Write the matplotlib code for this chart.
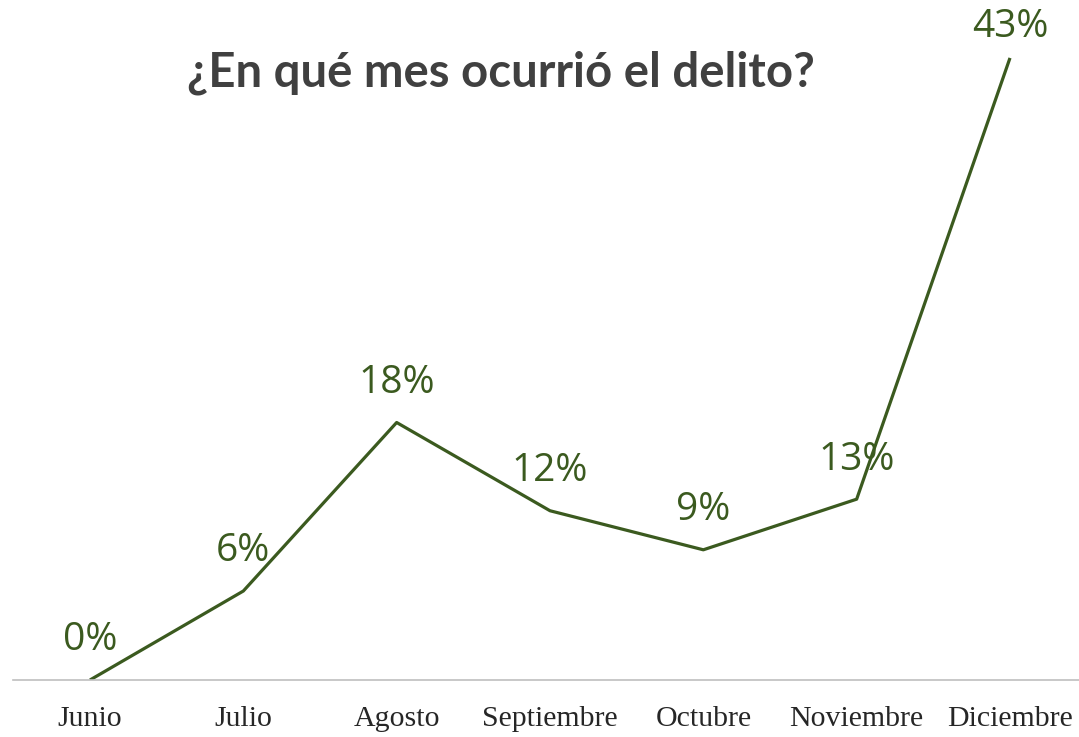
import matplotlib
matplotlib.use("Agg")
import matplotlib.pyplot as plt

meses = ["Junio", "Julio", "Agosto", "Septiembre", "Octubre", "Noviembre", "Diciembre"]
porcentajes = [0, 6.15, 17.8, 11.7, 9.0, 12.5, 43]
etiquetas = ["0%", "6%", "18%", "12%", "9%", "13%", "43%"]

verde = "#3b5a1f"

fig = plt.figure(figsize=(10.79, 7.37), dpi=100)
ax = fig.add_axes([13 / 1079, 1 - 680 / 737, 1066 / 1079, 651 / 737])

x = list(range(len(meses)))
ax.plot(x, porcentajes, color=verde, linewidth=2.3, solid_capstyle="butt")

for xi, yi, lab in zip(x, porcentajes, etiquetas):
    off = 22 if yi == max(porcentajes) else 28.5
    ax.annotate(lab, (xi, yi), xytext=(0, off), textcoords="offset points",
                ha="center", va="center", fontsize=28, color=verde,
                family="Open Sans")

ax.set_xlim(-0.502, 6.45)
ax.set_ylim(0, 45)
ax.set_xticks(x)
ax.set_xticklabels(meses, family="Liberation Serif", fontsize=21.5, color="#262626")
ax.tick_params(axis="x", length=0, pad=19)
ax.set_yticks([])
for s in ["top", "right", "left"]:
    ax.spines[s].set_visible(False)
ax.spines["bottom"].set_color("#bfbfbf")
ax.spines["bottom"].set_linewidth(1.2)
ax.patch.set_alpha(0)

fig.text(501 / 1079, 1 - 73 / 737, "¿En qué mes ocurrió el delito?", ha="center",
         va="center", fontsize=34, fontweight="bold", color="#404040", family="Lato")

fig.savefig("out.png", dpi=100)
